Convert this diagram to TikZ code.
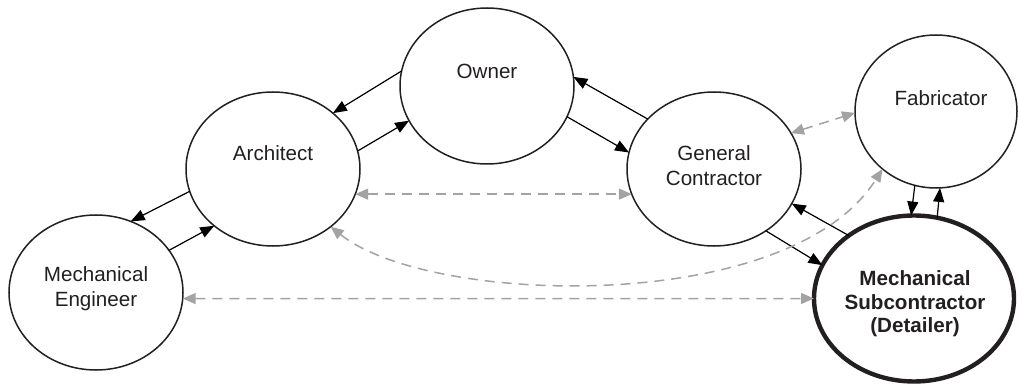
\documentclass[tikz,border=0pt]{standalone}
\usepackage{fontspec}
\setmainfont{Liberation Sans}
\usetikzlibrary{shapes.geometric,arrows.meta}
\definecolor{txtc}{HTML}{231F20}
\definecolor{dgray}{HTML}{A3A3A3}
\begin{document}
\begin{tikzpicture}[x=0.5pt,y=-0.5pt,
  ell/.style={ellipse, draw=txtc, line width=0.75pt, inner sep=0pt, outer sep=0pt},
  thickell/.style={ellipse, draw=txtc, line width=2.2pt, inner sep=0pt, outer sep=0pt},
  txt/.style={text=txtc, font=\fontsize{10.3pt}{12.5pt}\selectfont, align=center, inner sep=0pt},
  btxt/.style={text=txtc, font=\fontsize{10.3pt}{11.8pt}\selectfont\bfseries, align=center, inner sep=0pt},
  blk/.style={-{Triangle[length=7pt,width=5.5pt]}, line width=0.6pt, draw=black, fill=black},
  gry/.style={{Triangle[length=6.5pt,width=5.5pt]}-{Triangle[length=6.5pt,width=5.5pt]}, line width=0.75pt, draw=dgray, dash pattern=on 5pt off 3.5pt}
]
\useasboundingbox (0,0) rectangle (1018,385);
\fill[white] (0,0) rectangle (1018,385);

% ellipses
\node[ell, minimum width=87pt, minimum height=78pt] (own) at (487,86) {};
\node[ell, minimum width=87pt, minimum height=77pt] (arc) at (273,169) {};
\node[ell, minimum width=87pt, minimum height=77.5pt] (me) at (96,292.5) {};
\node[ell, minimum width=87pt, minimum height=77pt] (gc) at (714,169) {};
\node[ell, minimum width=81pt, minimum height=76.5pt] (fab) at (936,111.5) {};
\node[thickell, minimum width=100pt, minimum height=83pt] (ms) at (914,298.5) {};

% texts
\node[txt] (ownT) at (487,71) {Owner};
\node[txt] (arcT) at (273,153) {Architect};
\node[txt] (meT) at (96,289) {Mechanical\\Engineer};
\node[txt] (gcT) at (714,166) {General\\Contractor};
\node[txt] (fabT) at (941,98) {Fabricator};
\node[btxt] (msT) at (915,304) {Mechanical\\Subcontractor\\(Detailer)};

% black arrows
\draw[blk] (own.170) -- (arc.43);
\draw[blk] (arc.12.6) -- (own.204);
\draw[blk] (gc.143.7) -- (own.6);
\draw[blk] (own.-21) -- (gc.169.7);
\draw[blk] (arc.195) -- (me.64);
\draw[blk] (me.30.7) -- (arc.224);
\draw[blk] (ms.136.7) -- (gc.-24.5);
\draw[blk] (gc.-50) -- (ms.160);
\draw[blk] (fab.254) -- (ms.92);
\draw[blk] (ms.74) -- (fab.273);

% gray dashed
\draw[gry] (arc.-17.8) -- (gc.197);
\draw[gry] (me.-4) -- (ms.180);
\draw[gry] (gc.25) -- (fab.181);
\draw[gry] (arc.-45.5) .. controls (430,306) and (790,316) .. (fab.227);
\end{tikzpicture}
\end{document}
